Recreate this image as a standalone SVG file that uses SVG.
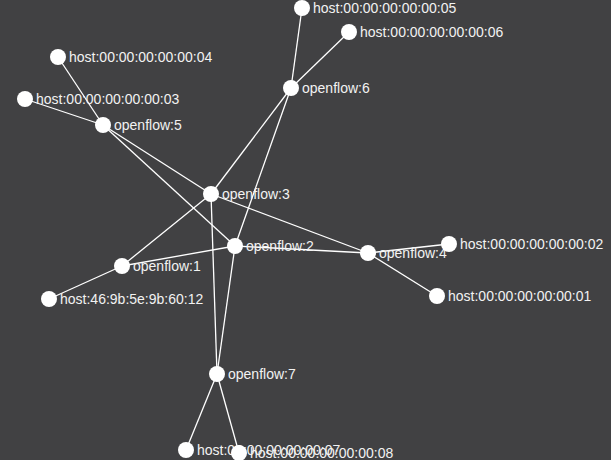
<svg xmlns="http://www.w3.org/2000/svg" width="611" height="460" viewBox="0 0 611 460">
<style>
.bg{fill:#414143}
.links line{stroke:#fff;stroke-width:1.3}
.node circle{fill:#fff}
.node text{fill:#f2f2f2;font-family:"Liberation Sans",Arial,sans-serif;font-size:14px}
</style>
<rect class="bg" width="611" height="460"/>
<g class="links" id="links">
<line x1="302" y1="8" x2="291" y2="88"/>
<line x1="349" y1="32" x2="291" y2="88"/>
<line x1="291" y1="88" x2="211" y2="194"/>
<line x1="291" y1="88" x2="235" y2="246"/>
<line x1="58" y1="57" x2="103" y2="125"/>
<line x1="25" y1="99" x2="103" y2="125"/>
<line x1="103" y1="125" x2="211" y2="194"/>
<line x1="103" y1="125" x2="235" y2="246"/>
<line x1="211" y1="194" x2="368" y2="253"/>
<line x1="211" y1="194" x2="122" y2="266"/>
<line x1="211" y1="194" x2="217" y2="374"/>
<line x1="235" y1="246" x2="217" y2="374"/>
<line x1="235" y1="246" x2="122" y2="266"/>
<line x1="235" y1="246" x2="368" y2="253"/>
<line x1="122" y1="266" x2="49" y2="299"/>
<line x1="368" y1="253" x2="449" y2="244"/>
<line x1="368" y1="253" x2="437" y2="296"/>
<line x1="217" y1="374" x2="186" y2="450"/>
<line x1="217" y1="374" x2="239" y2="453"/>
</g>
<g class="node" id="host05"><circle cx="302" cy="8" r="8"/><text x="313" y="13">host:00:00:00:00:00:05</text></g>
<g class="node" id="host06"><circle cx="349" cy="32" r="8"/><text x="360" y="37">host:00:00:00:00:00:06</text></g>
<g class="node" id="openflow6"><circle cx="291" cy="88" r="8"/><text x="302" y="93">openflow:6</text></g>
<g class="node" id="host04"><circle cx="58" cy="57" r="8"/><text x="69" y="62">host:00:00:00:00:00:04</text></g>
<g class="node" id="host03"><circle cx="25" cy="99" r="8"/><text x="36" y="104">host:00:00:00:00:00:03</text></g>
<g class="node" id="openflow5"><circle cx="103" cy="125" r="8"/><text x="114" y="130">openflow:5</text></g>
<g class="node" id="openflow3"><circle cx="211" cy="194" r="8"/><text x="222" y="199">openflow:3</text></g>
<g class="node" id="openflow2"><circle cx="235" cy="246" r="8"/><text x="246" y="251">openflow:2</text></g>
<g class="node" id="openflow1"><circle cx="122" cy="266" r="8"/><text x="133" y="271">openflow:1</text></g>
<g class="node" id="host46"><circle cx="49" cy="299" r="8"/><text x="60" y="304">host:46:9b:5e:9b:60:12</text></g>
<g class="node" id="openflow4"><circle cx="368" cy="253" r="8"/><text x="379" y="258">openflow:4</text></g>
<g class="node" id="host02"><circle cx="449" cy="244" r="8"/><text x="460" y="249">host:00:00:00:00:00:02</text></g>
<g class="node" id="host01"><circle cx="437" cy="296" r="8"/><text x="448" y="301">host:00:00:00:00:00:01</text></g>
<g class="node" id="openflow7"><circle cx="217" cy="374" r="8"/><text x="228" y="379">openflow:7</text></g>
<g class="node" id="host07"><circle cx="186" cy="450" r="8"/><text x="197" y="455">host:00:00:00:00:00:07</text></g>
<g class="node" id="host08"><circle cx="239" cy="453" r="8"/><text x="250" y="458">host:00:00:00:00:00:08</text></g>
</svg>
